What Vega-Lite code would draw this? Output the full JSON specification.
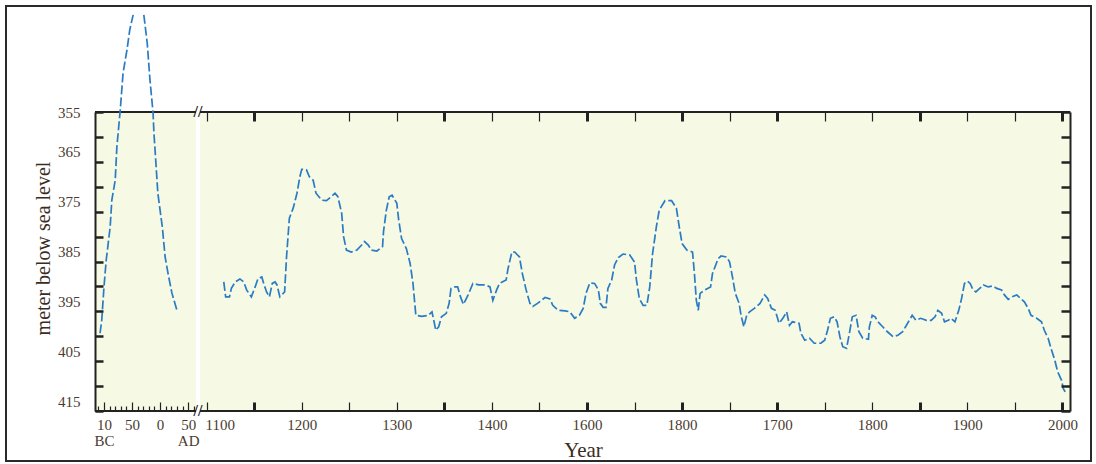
{
  "$schema": "https://vega.github.io/schema/vega-lite/v6.json",
  "autosize": {"type": "none"},
  "width": 1085,
  "height": 455,
  "padding": {"left": 6, "top": 6, "right": 5, "bottom": 3},
  "background": "white",
  "config": {"view": {"stroke": "#2a2a2a", "strokeWidth": 2, "fill": "white"}},
  "resolve": {"axis": {"x": "independent", "y": "independent"}},
  "data": {"values": [
    {"year": -107, "level": 399.4, "part": "a"}, {"year": -104, "level": 396.8, "part": "a"}, {"year": -100, "level": 390.1, "part": "a"}, {"year": -96, "level": 384.7, "part": "a"}, {"year": -89, "level": 378.1, "part": "a"}, {"year": -86, "level": 372.7, "part": "a"}, {"year": -80, "level": 368.7, "part": "a"}, {"year": -77, "level": 362.0, "part": "a"}, {"year": -71, "level": 354.6, "part": "a"}, {"year": -66, "level": 347.2, "part": "a"}, {"year": -59, "level": 342.5, "part": "a"}, {"year": -54, "level": 338.5, "part": "a"}, {"year": -48, "level": 335.5, "part": "a"},
    {"year": -29, "level": 335.5, "part": "b"}, {"year": -23, "level": 341.1, "part": "b"}, {"year": -18, "level": 348.6, "part": "b"}, {"year": -12.5, "level": 355.2, "part": "b"}, {"year": -11, "level": 359.2, "part": "b"}, {"year": -7, "level": 366.0, "part": "b"}, {"year": -4, "level": 371.3, "part": "b"}, {"year": 4, "level": 378.1, "part": "b"}, {"year": 9, "level": 384.1, "part": "b"}, {"year": 14, "level": 387.3, "part": "b"}, {"year": 21, "level": 391.3, "part": "b"}, {"year": 30, "level": 394.8, "part": "b"},
    {"year": 1118, "level": 389.1, "part": "c"}, {"year": 1120, "level": 392.1, "part": "c"}, {"year": 1124, "level": 392.1, "part": "c"}, {"year": 1126, "level": 390.4, "part": "c"}, {"year": 1130, "level": 389.1, "part": "c"}, {"year": 1135, "level": 388.5, "part": "c"}, {"year": 1139, "level": 389.1, "part": "c"}, {"year": 1142, "level": 390.7, "part": "c"}, {"year": 1147, "level": 392.1, "part": "c"}, {"year": 1151, "level": 390.1, "part": "c"}, {"year": 1154, "level": 388.4, "part": "c"}, {"year": 1158, "level": 388.1, "part": "c"}, {"year": 1160, "level": 389.4, "part": "c"}, {"year": 1163, "level": 391.1, "part": "c"}, {"year": 1166, "level": 392.1, "part": "c"}, {"year": 1169, "level": 389.4, "part": "c"}, {"year": 1172, "level": 389.1, "part": "c"}, {"year": 1174, "level": 389.7, "part": "c"}, {"year": 1177, "level": 392.1, "part": "c"}, {"year": 1182, "level": 391.1, "part": "c"}, {"year": 1184, "level": 384.1, "part": "c"}, {"year": 1187, "level": 376.3, "part": "c"}, {"year": 1191, "level": 374.3, "part": "c"}, {"year": 1195, "level": 371.3, "part": "c"}, {"year": 1198, "level": 368.0, "part": "c"}, {"year": 1200, "level": 366.5, "part": "c"}, {"year": 1205, "level": 366.6, "part": "c"}, {"year": 1208, "level": 368.0, "part": "c"}, {"year": 1212, "level": 368.7, "part": "c"}, {"year": 1215, "level": 371.3, "part": "c"}, {"year": 1221, "level": 372.7, "part": "c"}, {"year": 1226, "level": 372.8, "part": "c"}, {"year": 1231, "level": 372.0, "part": "c"}, {"year": 1235, "level": 371.3, "part": "c"}, {"year": 1238, "level": 372.0, "part": "c"}, {"year": 1242, "level": 375.3, "part": "c"}, {"year": 1244, "level": 380.0, "part": "c"}, {"year": 1247, "level": 382.7, "part": "c"}, {"year": 1252, "level": 383.1, "part": "c"}, {"year": 1258, "level": 382.7, "part": "c"}, {"year": 1263, "level": 381.7, "part": "c"}, {"year": 1266, "level": 381.0, "part": "c"}, {"year": 1270, "level": 381.7, "part": "c"}, {"year": 1273, "level": 382.7, "part": "c"}, {"year": 1279, "level": 382.9, "part": "c"}, {"year": 1285, "level": 382.0, "part": "c"}, {"year": 1286, "level": 379.0, "part": "c"}, {"year": 1289, "level": 374.7, "part": "c"}, {"year": 1292, "level": 372.0, "part": "c"}, {"year": 1295, "level": 371.7, "part": "c"}, {"year": 1300, "level": 373.3, "part": "c"}, {"year": 1302, "level": 376.7, "part": "c"}, {"year": 1305, "level": 380.4, "part": "c"}, {"year": 1310, "level": 382.4, "part": "c"}, {"year": 1314, "level": 385.4, "part": "c"}, {"year": 1317, "level": 389.4, "part": "c"}, {"year": 1320, "level": 395.8, "part": "c"}, {"year": 1326, "level": 396.0, "part": "c"}, {"year": 1333, "level": 395.8, "part": "c"}, {"year": 1337, "level": 395.1, "part": "c"}, {"year": 1341, "level": 398.8, "part": "c"}, {"year": 1344, "level": 398.1, "part": "c"}, {"year": 1347, "level": 396.1, "part": "c"}, {"year": 1352, "level": 395.4, "part": "c"}, {"year": 1355, "level": 393.4, "part": "c"}, {"year": 1357, "level": 390.4, "part": "c"}, {"year": 1361, "level": 390.1, "part": "c"}, {"year": 1364, "level": 390.1, "part": "c"}, {"year": 1367, "level": 392.1, "part": "c"}, {"year": 1370, "level": 393.6, "part": "c"}, {"year": 1375, "level": 391.7, "part": "c"}, {"year": 1380, "level": 389.4, "part": "c"}, {"year": 1386, "level": 389.7, "part": "c"}, {"year": 1393, "level": 389.7, "part": "c"}, {"year": 1398, "level": 390.1, "part": "c"}, {"year": 1401, "level": 392.8, "part": "c"}, {"year": 1405, "level": 390.7, "part": "c"}, {"year": 1408, "level": 389.4, "part": "c"}, {"year": 1415, "level": 388.7, "part": "c"}, {"year": 1417, "level": 386.4, "part": "c"}, {"year": 1421, "level": 383.1, "part": "c"}, {"year": 1424, "level": 383.1, "part": "c"}, {"year": 1429, "level": 384.1, "part": "c"}, {"year": 1432, "level": 387.4, "part": "c"}, {"year": 1436, "level": 390.7, "part": "c"}, {"year": 1440, "level": 393.4, "part": "c"}, {"year": 1443, "level": 394.0, "part": "c"}, {"year": 1448, "level": 393.4, "part": "c"}, {"year": 1456, "level": 392.2, "part": "c"}, {"year": 1461, "level": 392.5, "part": "c"}, {"year": 1464, "level": 393.8, "part": "c"}, {"year": 1470, "level": 394.8, "part": "c"}, {"year": 1477, "level": 394.9, "part": "c"}, {"year": 1482, "level": 395.1, "part": "c"}, {"year": 1487, "level": 396.4, "part": "c"}, {"year": 1492, "level": 395.8, "part": "c"}, {"year": 1496, "level": 394.4, "part": "c"}, {"year": 1499, "level": 391.4, "part": "c"}, {"year": 1503, "level": 389.3, "part": "c"}, {"year": 1508, "level": 389.4, "part": "c"}, {"year": 1512, "level": 390.7, "part": "c"}, {"year": 1514, "level": 393.4, "part": "c"}, {"year": 1517, "level": 394.2, "part": "c"}, {"year": 1520, "level": 394.2, "part": "c"}, {"year": 1522, "level": 390.4, "part": "c"}, {"year": 1526, "level": 388.7, "part": "c"}, {"year": 1529, "level": 385.7, "part": "c"}, {"year": 1533, "level": 384.2, "part": "c"}, {"year": 1538, "level": 383.5, "part": "c"}, {"year": 1545, "level": 383.7, "part": "c"}, {"year": 1550, "level": 385.1, "part": "c"}, {"year": 1552, "level": 388.7, "part": "c"}, {"year": 1555, "level": 392.4, "part": "c"}, {"year": 1559, "level": 393.8, "part": "c"}, {"year": 1563, "level": 393.8, "part": "c"}, {"year": 1566, "level": 390.1, "part": "c"}, {"year": 1569, "level": 383.4, "part": "c"}, {"year": 1573, "level": 378.0, "part": "c"}, {"year": 1576, "level": 374.7, "part": "c"}, {"year": 1582, "level": 372.8, "part": "c"}, {"year": 1589, "level": 372.8, "part": "c"}, {"year": 1594, "level": 374.3, "part": "c"}, {"year": 1597, "level": 378.0, "part": "c"}, {"year": 1600, "level": 381.4, "part": "c"}, {"year": 1605, "level": 382.7, "part": "c"}, {"year": 1611, "level": 383.1, "part": "c"}, {"year": 1613, "level": 387.4, "part": "c"}, {"year": 1615, "level": 392.8, "part": "c"}, {"year": 1617, "level": 394.8, "part": "c"}, {"year": 1619, "level": 391.4, "part": "c"}, {"year": 1624, "level": 390.7, "part": "c"}, {"year": 1630, "level": 390.1, "part": "c"}, {"year": 1632, "level": 387.4, "part": "c"}, {"year": 1638, "level": 384.4, "part": "c"}, {"year": 1641, "level": 383.9, "part": "c"}, {"year": 1647, "level": 384.1, "part": "c"}, {"year": 1650, "level": 385.1, "part": "c"}, {"year": 1653, "level": 388.1, "part": "c"}, {"year": 1656, "level": 391.4, "part": "c"}, {"year": 1660, "level": 393.4, "part": "c"}, {"year": 1662, "level": 395.8, "part": "c"}, {"year": 1665, "level": 398.1, "part": "c"}, {"year": 1668, "level": 395.8, "part": "c"}, {"year": 1671, "level": 395.1, "part": "c"}, {"year": 1676, "level": 394.4, "part": "c"}, {"year": 1682, "level": 393.4, "part": "c"}, {"year": 1687, "level": 391.7, "part": "c"}, {"year": 1690, "level": 392.4, "part": "c"}, {"year": 1694, "level": 394.4, "part": "c"}, {"year": 1698, "level": 394.8, "part": "c"}, {"year": 1702, "level": 397.4, "part": "c"}, {"year": 1706, "level": 396.4, "part": "c"}, {"year": 1710, "level": 395.1, "part": "c"}, {"year": 1713, "level": 397.8, "part": "c"}, {"year": 1716, "level": 397.1, "part": "c"}, {"year": 1723, "level": 397.4, "part": "c"}, {"year": 1725, "level": 399.4, "part": "c"}, {"year": 1729, "level": 400.8, "part": "c"}, {"year": 1734, "level": 400.4, "part": "c"}, {"year": 1739, "level": 401.4, "part": "c"}, {"year": 1746, "level": 401.4, "part": "c"}, {"year": 1750, "level": 400.8, "part": "c"}, {"year": 1753, "level": 398.8, "part": "c"}, {"year": 1756, "level": 396.4, "part": "c"}, {"year": 1760, "level": 396.1, "part": "c"}, {"year": 1763, "level": 397.1, "part": "c"}, {"year": 1766, "level": 400.1, "part": "c"}, {"year": 1769, "level": 402.1, "part": "c"}, {"year": 1773, "level": 402.4, "part": "c"}, {"year": 1776, "level": 399.4, "part": "c"}, {"year": 1779, "level": 396.1, "part": "c"}, {"year": 1783, "level": 395.8, "part": "c"}, {"year": 1786, "level": 399.1, "part": "c"}, {"year": 1790, "level": 400.4, "part": "c"}, {"year": 1796, "level": 400.6, "part": "c"}, {"year": 1797, "level": 398.1, "part": "c"}, {"year": 1800, "level": 395.8, "part": "c"}, {"year": 1803, "level": 396.1, "part": "c"}, {"year": 1806, "level": 397.1, "part": "c"}, {"year": 1811, "level": 398.1, "part": "c"}, {"year": 1816, "level": 399.1, "part": "c"}, {"year": 1822, "level": 400.1, "part": "c"}, {"year": 1827, "level": 399.8, "part": "c"}, {"year": 1832, "level": 399.1, "part": "c"}, {"year": 1836, "level": 397.8, "part": "c"}, {"year": 1839, "level": 396.8, "part": "c"}, {"year": 1842, "level": 395.8, "part": "c"}, {"year": 1846, "level": 396.8, "part": "c"}, {"year": 1851, "level": 396.4, "part": "c"}, {"year": 1857, "level": 396.8, "part": "c"}, {"year": 1862, "level": 396.8, "part": "c"}, {"year": 1866, "level": 396.1, "part": "c"}, {"year": 1869, "level": 394.8, "part": "c"}, {"year": 1873, "level": 395.4, "part": "c"}, {"year": 1876, "level": 397.1, "part": "c"}, {"year": 1880, "level": 396.8, "part": "c"}, {"year": 1883, "level": 396.4, "part": "c"}, {"year": 1887, "level": 397.1, "part": "c"}, {"year": 1891, "level": 394.8, "part": "c"}, {"year": 1894, "level": 392.4, "part": "c"}, {"year": 1897, "level": 389.4, "part": "c"}, {"year": 1900, "level": 388.9, "part": "c"}, {"year": 1903, "level": 389.4, "part": "c"}, {"year": 1906, "level": 390.7, "part": "c"}, {"year": 1909, "level": 391.1, "part": "c"}, {"year": 1913, "level": 390.4, "part": "c"}, {"year": 1917, "level": 389.7, "part": "c"}, {"year": 1922, "level": 390.1, "part": "c"}, {"year": 1927, "level": 389.9, "part": "c"}, {"year": 1931, "level": 390.4, "part": "c"}, {"year": 1936, "level": 390.7, "part": "c"}, {"year": 1939, "level": 391.7, "part": "c"}, {"year": 1943, "level": 392.6, "part": "c"}, {"year": 1947, "level": 392.1, "part": "c"}, {"year": 1952, "level": 391.7, "part": "c"}, {"year": 1956, "level": 392.4, "part": "c"}, {"year": 1960, "level": 393.1, "part": "c"}, {"year": 1964, "level": 394.4, "part": "c"}, {"year": 1967, "level": 395.8, "part": "c"}, {"year": 1973, "level": 396.4, "part": "c"}, {"year": 1978, "level": 397.1, "part": "c"}, {"year": 1981, "level": 398.8, "part": "c"}, {"year": 1985, "level": 400.4, "part": "c"}, {"year": 1988, "level": 402.4, "part": "c"}, {"year": 1992, "level": 404.8, "part": "c"}, {"year": 1995, "level": 407.1, "part": "c"}, {"year": 1999, "level": 408.8, "part": "c"}, {"year": 2001, "level": 410.5, "part": "c"}, {"year": 2003, "level": 411.2, "part": "c"}
  ]},
  "layer": [
    {
      "data": {"values": [{}]},
      "mark": {"type": "rect", "fill": "#f6f9e3"},
      "encoding": {
        "x": {"datum": -116, "type": "quantitative",
          "scale": {"type": "linear", "domain": [-116, 64, 1093, 2008], "range": [89, 190, 194, 1064], "zero": false, "nice": false},
          "axis": {
            "orient": "bottom", "offset": -50, "domain": false, "grid": false, "zindex": 1,
            "values": [-110, -100, -90, -80, -70, -60, -50, -40, -30, -20, -10, 0, 10, 20, 30, 40, 50, 60, 1100, 1150, 1200, 1250, 1300, 1350, 1400, 1450, 1500, 1550, 1600, 1650, 1700, 1750, 1800, 1850, 1900, 1950, 2000],
            "format": "d",
            "labelExpr": "datum.value == -100 ? ['10','BC'] : datum.value == -50 ? '50' : datum.value == 0 ? '0' : datum.value == 50 ? ['50','AD'] : datum.value == 1500 ? '1600' : datum.value == 1600 ? '1800' : (datum.value >= 1100 && datum.value % 100 == 0) ? datum.label : ''",
            "labelFlush": false, "labelOverlap": false, "labelBound": false,
            "labelFont": "Liberation Serif", "labelFontSize": 15, "labelColor": "#4a3b30", "labelLineHeight": 16,
            "labelPadding": 15,
            "labelOffset": {"condition": {"test": "datum.value == 1100", "value": 13}, "value": 0},
            "tickColor": "#222222",
            "tickSize": {"condition": {"test": "datum.value < 100 && datum.value % 50 != 0", "value": -5}, "value": -9},
            "tickWidth": {"condition": {"test": "indexof([1150,1350,1500,1600,1700,1850,2000], datum.value) >= 0", "value": 3}, "value": 1.2},
            "title": "Year", "titleFont": "Liberation Serif", "titleFontSize": 21, "titleFontWeight": "normal", "titleColor": "#3b2c22",
            "titleX": 577, "titleY": 39, "titleBaseline": "middle", "titleAlign": "center", "titleAnchor": null
          }
        },
        "x2": {"datum": 64},
        "y": {"datum": 355, "type": "quantitative",
          "scale": {"domain": [355, 415], "range": [106, 405], "zero": false, "nice": false},
          "axis": {
            "orient": "left", "offset": -89, "domain": true, "domainColor": "#222222", "domainWidth": 2, "grid": false, "zindex": 1,
            "values": [355, 360, 365, 370, 375, 380, 385, 390, 395, 400, 405, 410, 415],
            "labelExpr": "(datum.value - 355) % 10 == 0 ? datum.label : ''",
            "labelFont": "Liberation Serif", "labelFontSize": 15, "labelColor": "#4a3b30",
            "labelPadding": 23,
            "labelOffset": {"condition": {"test": "datum.value == 355", "value": 0}, "value": -10},
            "tickColor": "#222222", "tickSize": -8, "tickWidth": 2.5,
            "title": "meter below sea level", "titleFont": "Liberation Serif", "titleFontSize": 20, "titleFontWeight": "normal", "titleColor": "#3b2c22",
            "titleX": -52, "titleY": 242, "titleAngle": -90, "titleBaseline": "middle", "titleAlign": "center", "titleAnchor": null
          }
        },
        "y2": {"datum": 415}
      }
    },
    {
      "data": {"values": [{}]},
      "mark": {"type": "rect", "fill": "#f6f9e3"},
      "encoding": {
        "x": {"datum": 1093, "type": "quantitative",
          "scale": {"type": "linear", "domain": [-116, 64, 1093, 2008], "range": [89, 190, 194, 1064], "zero": false, "nice": false},
          "axis": {
            "orient": "top", "offset": -106, "domain": false, "grid": false, "zindex": 1, "labels": false, "title": null,
            "values": [1100, 1150, 1200, 1250, 1300, 1350, 1400, 1450, 1500, 1550, 1600, 1650, 1700, 1750, 1800, 1850, 1900, 1950, 2000],
            "tickColor": "#222222", "tickSize": -9,
            "tickWidth": {"condition": {"test": "indexof([1150,1350,1500,1600,1700,1850,2000], datum.value) >= 0", "value": 3}, "value": 1.2}
          }
        },
        "x2": {"datum": 2008},
        "y": {"datum": 355, "type": "quantitative",
          "scale": {"domain": [355, 415], "range": [106, 405], "zero": false, "nice": false},
          "axis": {
            "orient": "right", "offset": -21, "domain": true, "domainColor": "#222222", "domainWidth": 2, "grid": false, "zindex": 1, "labels": false, "title": null,
            "values": [355, 360, 365, 370, 375, 380, 385, 390, 395, 400, 405, 410, 415],
            "tickColor": "#222222", "tickSize": -9, "tickWidth": 2.5
          }
        },
        "y2": {"datum": 415}
      }
    },
    {
      "data": {"values": [{}]},
      "mark": {"type": "rule", "stroke": "#222222", "strokeWidth": 2},
      "encoding": {
        "x": {"datum": -116, "type": "quantitative", "scale": {"type": "linear", "domain": [-116, 64, 1093, 2008], "range": [89, 190, 194, 1064], "zero": false, "nice": false}, "axis": null},
        "x2": {"datum": 64},
        "y": {"datum": 355, "type": "quantitative", "scale": {"domain": [355, 415], "range": [106, 405], "zero": false, "nice": false}, "axis": null}
      }
    },
    {
      "data": {"values": [{}]},
      "mark": {"type": "rule", "stroke": "#222222", "strokeWidth": 2},
      "encoding": {
        "x": {"datum": 1093, "type": "quantitative", "scale": {"type": "linear", "domain": [-116, 64, 1093, 2008], "range": [89, 190, 194, 1064], "zero": false, "nice": false}, "axis": null},
        "x2": {"datum": 2008},
        "y": {"datum": 355, "type": "quantitative", "scale": {"domain": [355, 415], "range": [106, 405], "zero": false, "nice": false}, "axis": null}
      }
    },
    {
      "data": {"values": [{}]},
      "mark": {"type": "rule", "stroke": "#222222", "strokeWidth": 2},
      "encoding": {
        "x": {"datum": -116, "type": "quantitative", "scale": {"type": "linear", "domain": [-116, 64, 1093, 2008], "range": [89, 190, 194, 1064], "zero": false, "nice": false}, "axis": null},
        "x2": {"datum": 64},
        "y": {"datum": 415, "type": "quantitative", "scale": {"domain": [355, 415], "range": [106, 405], "zero": false, "nice": false}, "axis": null}
      }
    },
    {
      "data": {"values": [{}]},
      "mark": {"type": "rule", "stroke": "#222222", "strokeWidth": 2},
      "encoding": {
        "x": {"datum": 1093, "type": "quantitative", "scale": {"type": "linear", "domain": [-116, 64, 1093, 2008], "range": [89, 190, 194, 1064], "zero": false, "nice": false}, "axis": null},
        "x2": {"datum": 2008},
        "y": {"datum": 415, "type": "quantitative", "scale": {"domain": [355, 415], "range": [106, 405], "zero": false, "nice": false}, "axis": null}
      }
    },
    {
      "data": {"values": [{}]},
      "mark": {"type": "text", "text": "//", "font": "Liberation Serif", "fontSize": 16, "fontWeight": "bold", "color": "#222222", "baseline": "middle", "align": "center"},
      "encoding": {
        "x": {"datum": 580, "type": "quantitative", "scale": {"type": "linear", "domain": [-116, 64, 1093, 2008], "range": [89, 190, 194, 1064], "zero": false, "nice": false}, "axis": null},
        "y": {"datum": 355, "type": "quantitative", "scale": {"domain": [355, 415], "range": [106, 405], "zero": false, "nice": false}, "axis": null}
      }
    },
    {
      "data": {"values": [{}]},
      "mark": {"type": "text", "text": "//", "font": "Liberation Serif", "fontSize": 16, "fontWeight": "bold", "color": "#222222", "baseline": "middle", "align": "center"},
      "encoding": {
        "x": {"datum": 580, "type": "quantitative", "scale": {"type": "linear", "domain": [-116, 64, 1093, 2008], "range": [89, 190, 194, 1064], "zero": false, "nice": false}, "axis": null},
        "y": {"datum": 415, "type": "quantitative", "scale": {"domain": [355, 415], "range": [106, 405], "zero": false, "nice": false}, "axis": null}
      }
    },
    {
      "mark": {"type": "line", "stroke": "#2a7bc6", "strokeWidth": 1.7, "strokeDash": [9, 3], "clip": false},
      "encoding": {
        "x": {"field": "year", "type": "quantitative", "scale": {"type": "linear", "domain": [-116, 64, 1093, 2008], "range": [89, 190, 194, 1064], "zero": false, "nice": false}, "axis": null},
        "y": {"field": "level", "type": "quantitative", "scale": {"domain": [355, 415], "range": [106, 405], "zero": false, "nice": false}, "axis": null},
        "detail": {"field": "part", "type": "nominal"},
        "order": {"field": "year", "type": "quantitative"}
      }
    }
  ]
}
